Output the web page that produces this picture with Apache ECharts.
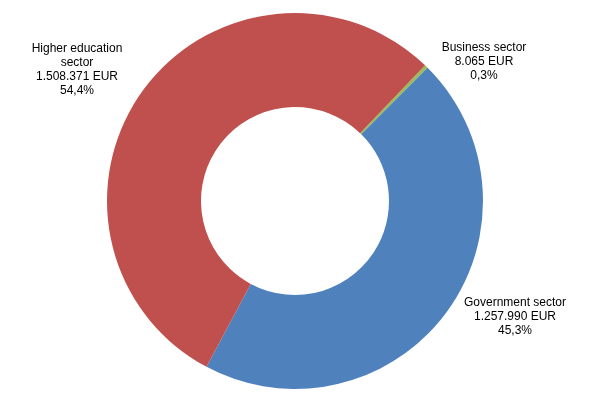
<!DOCTYPE html>
<html>
<head>
<meta charset="utf-8">
<script src="https://cdn.jsdelivr.net/npm/echarts@6/dist/echarts.min.js"></script>
<style>
  html, body { margin: 0; padding: 0; background: #fff; }
  #chart { width: 595px; height: 398px; }
</style>
</head>
<body>
<div id="chart"></div>
<script>
// clockwise order, starting just right of the top
const sectors = ['Business sector', 'Government sector', 'Higher education\nsector']
const amounts = [8065, 1257990, 1508371]
const Colors = ['#9BBB59', '#4F81BD', '#C0504D']

// label anchor points (block centres)
const labelX = [484, 515, 77]
const labelY = [62, 317, 70]

const total = amounts.reduce((a, b) => a + b, 0)
const fmtEur = v => String(v).replace(/\B(?=(\d{3})+(?!\d))/g, '.') + ' EUR'
const fmtPct = v => (v / total * 100).toFixed(1).replace('.', ',') + '%'

var myChart = echarts.init(document.getElementById('chart'))
var option = {
  animation: false,
  series: [{
    type: 'pie',
    center: [295, 201],
    radius: [94, 188],
    startAngle: 46.2,
    clockwise: true,
    emphasis: { disabled: true },
    labelLine: { show: false },
    label: {
      show: true,
      position: 'outside',
      overflow: 'none',
      color: '#000',
      fontFamily: 'Liberation Sans, Arial, sans-serif',
      fontSize: 12,
      lineHeight: 14,
      align: 'center',
      formatter: p => p.name + '\n' + fmtEur(p.value) + '\n' + fmtPct(p.value)
    },
    labelLayout: p => ({
      x: labelX[p.dataIndex],
      y: labelY[p.dataIndex],
      align: 'center',
      verticalAlign: 'middle'
    }),
    data: sectors.map((s, i) => ({
      name: s,
      value: amounts[i],
      itemStyle: { color: Colors[i] }
    }))
  }]
}
myChart.setOption(option, true)
</script>
</body>
</html>
